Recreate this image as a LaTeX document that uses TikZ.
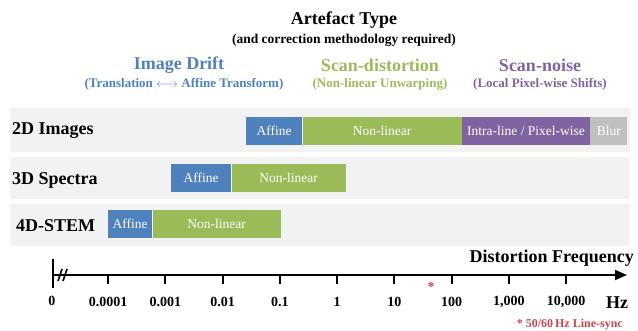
\documentclass[tikz,border=0pt]{standalone}
\usepackage{fontspec}
\setmainfont{Liberation Serif}
\usetikzlibrary{arrows.meta,positioning}
\definecolor{driftblue}{HTML}{4F81BD}
\definecolor{warpgreen}{HTML}{9BBB59}
\definecolor{noisepurple}{HTML}{8064A2}
\definecolor{blurgray}{HTML}{BFBFBF}
\definecolor{bandgray}{HTML}{F2F2F2}
\definecolor{syncred}{HTML}{C8464A}
\tikzset{
    band/.style={fill=bandgray, minimum width=620pt, minimum height=#1, inner sep=0pt, anchor=west},
    seg/.style args={#1/#2}{fill=#1, text=white, minimum width=#2, minimum height=28pt, inner sep=0pt, anchor=west, font=\fontsize{13.5}{15}\selectfont},
    rowlabel/.style={anchor=west, inner sep=0pt, font=\bfseries\fontsize{18}{20}\selectfont},
    heading/.style={text=#1, font=\bfseries\fontsize{18}{20}\selectfont},
    subheading/.style={text=#1, font=\bfseries\fontsize{13}{15}\selectfont},
    ticklabel/.style={font=\bfseries\fontsize{14}{16}\selectfont}
}

\begin{document}
\begin{tikzpicture}[x=1pt, y=-1pt, >={Triangle[length=12pt,width=10pt]}]
\def\yaxis{275}     % y of the frequency axis
\def\xzero{108}     % x of first decade tick (0.0001)
\def\tstep{57.25}   % one decade
\useasboundingbox (0,0) rectangle (638,331);
% title
\node[heading=black] (title) at (344,20) {Artefact Type};
\node[subheading=black, font=\bfseries\fontsize{13.5}{15}\selectfont] (subtitle) at (344,40) {(and correction methodology required)};
% artefact classes
\node[heading=driftblue] (drift) at (179,65) {Image Drift};
\node[subheading=driftblue] (driftsub) at (184,84) {(Translation $\longleftrightarrow$ Affine Transform)};
\node[heading=warpgreen] (warp) at (380,65) {Scan-distortion};
\node[subheading=warpgreen] (warpsub) at (380,84) {(Non-linear Unwarping)};
\node[heading=noisepurple] (noise) at (540,65) {Scan-noise};
\node[subheading=noisepurple] (noisesub) at (540,84) {(Local Pixel-wise Shifts)};
% rows
\node[band=44pt] (band2d) at (10,130) {};
\node[band=42pt] (band3d) at (10,178) {};
\node[band=42pt] (band4d) at (10,225) {};
\node[rowlabel] (lab2d) at (12,131) {2D Images};
\node[rowlabel] (lab3d) at (12,180) {3D Spectra};
\node[rowlabel] (lab4d) at (16,226) {4D-STEM};
% 2D images
\node[seg=driftblue/56pt] (img-aff) at (246,131) {Affine};
\node[seg=warpgreen/159pt, right=0pt of img-aff] (img-nl) {Non-linear};
\node[seg=noisepurple/128pt, right=0pt of img-nl] (img-px) {Intra-line / Pixel-wise};
\node[seg=blurgray/37pt, right=0pt of img-px] (img-blur) {Blur};
% 3D spectra
\node[seg=driftblue/60pt] (spec-aff) at (171,178) {Affine};
\node[seg=warpgreen/114pt, right=0pt of spec-aff] (spec-nl) {Non-linear};
% 4D-STEM
\node[seg=driftblue/44pt] (stem-aff) at (108,224) {Affine};
\node[seg=warpgreen/128pt, right=0pt of stem-aff] (stem-nl) {Non-linear};
% frequency axis
\coordinate (axstart) at (53,\yaxis);
\coordinate (axend) at (627,\yaxis);
\draw[line width=2pt] (53,259) -- (53,288);
\draw[line width=1.8pt, ->] (axstart) -- (axend);
\draw[line width=1.6pt] (58,281) -- (62,269) (63,281) -- (67,269);
\node[ticklabel] (zero) at (52,301) {0};
\foreach \lab [count=\i from 0] in {0.0001,0.001,0.01,0.1,1,10,100,{1,000},{10,000}} {%
\coordinate (t\i) at (\xzero+\i*\tstep,\yaxis);
\draw[line width=2pt] (t\i) -- ++(0,9);
\node[ticklabel] at (\xzero+\i*\tstep,302) {\lab};
};
\node[heading=black, anchor=east, inner sep=0pt] (freq) at (634,258) {Distortion Frequency};
\node[heading=black] (hz) at (617,303) {Hz};
% line-sync
\node[text=syncred, font=\bfseries\fontsize{14}{16}\selectfont] (star) at (431,287) {*};
\node[text=syncred, anchor=east, inner sep=0pt, font=\bfseries\fontsize{12}{14}\selectfont] (sync) at (623,325) {* 50/60\,Hz Line-sync};
\end{tikzpicture}
\end{document}
